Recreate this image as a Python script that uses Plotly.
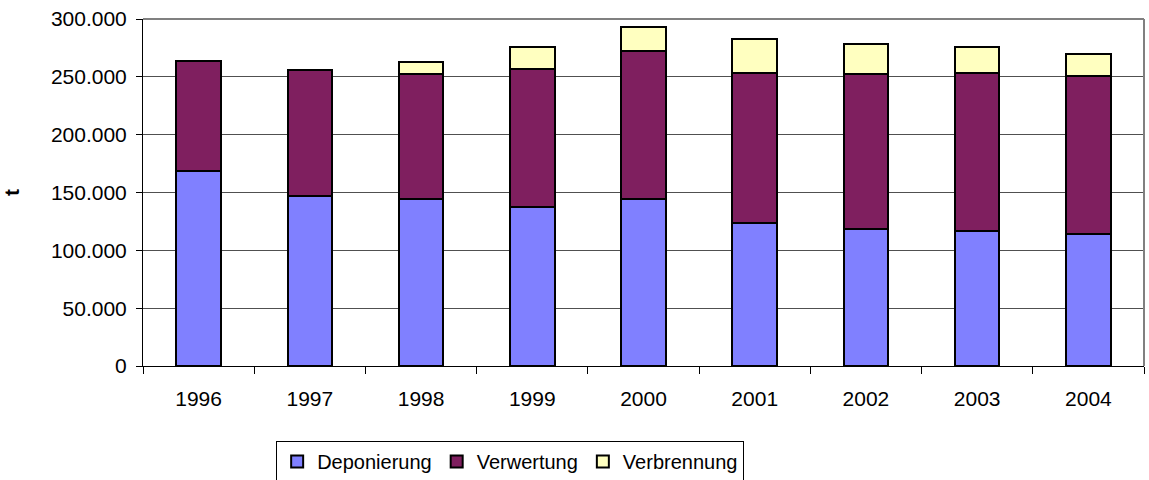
import plotly.graph_objects as go

years = ["1996", "1997", "1998", "1999", "2000", "2001", "2002", "2003", "2004"]
deponierung = [168500, 147000, 144500, 137500, 144000, 124000, 118500, 116500, 114500]
verwertung = [95500, 109000, 108000, 119500, 128000, 129000, 134000, 137000, 136500]
verbrennung = [None, None, 10000, 18500, 21500, 29500, 26000, 22000, 18500]

series = [
    ("Deponierung", deponierung, "#8080FF"),
    ("Verwertung", verwertung, "#7F1F5F"),
    ("Verbrennung", verbrennung, "#FFFFC0"),
]

FONT = "Liberation Sans, Arial, sans-serif"

fig = go.Figure()
for name, vals, color in series:
    fig.add_trace(go.Bar(
        x=years, y=vals, name=name,
        marker=dict(color=color, line=dict(color="#000000", width=2)),
    ))

fig.update_layout(
    width=1149, height=480,
    barmode="stack", bargap=0.6,
    separators=",.",
    paper_bgcolor="white", plot_bgcolor="white",
    margin=dict(l=143, r=5, t=19, b=114, autoexpand=False),
    font=dict(family=FONT, size=21, color="#000000"),
    showlegend=True,
    legend=dict(
        orientation="h", traceorder="normal",
        xref="container", yref="container",
        x=0.444, y=0.081, xanchor="center", yanchor="top",
        bordercolor="#000000", borderwidth=1, bgcolor="white",
        font=dict(family=FONT, size=20), itemwidth=30,
    ),
    xaxis=dict(
        type="category", tickson="boundaries", ticks="outside", ticklen=7,
        tickcolor="#000000", showline=True, linecolor="#000000", linewidth=1,
        showgrid=False, tickfont=dict(size=21), ticklabelstandoff=14,
    ),
    yaxis=dict(
        range=[0, 300000], dtick=50000, tickformat=",d",
        ticks="outside", ticklen=6, tickcolor="#000000",
        showline=True, linecolor="#000000", linewidth=1,
        showgrid=True, gridcolor="#505050", gridwidth=1,
        tickfont=dict(size=21), ticklabelstandoff=5,
        title=dict(text="<b>t</b>", font=dict(size=21), standoff=30),
    ),
)

# grey frame on the top and right sides of the plot area
fig.add_shape(type="line", xref="paper", yref="paper", x0=0, x1=1, y0=1, y1=1,
              line=dict(color="#808080", width=2))
fig.add_shape(type="line", xref="paper", yref="paper", x0=1, x1=1, y0=0, y1=1,
              line=dict(color="#808080", width=2))

fig.write_html("out.html")
